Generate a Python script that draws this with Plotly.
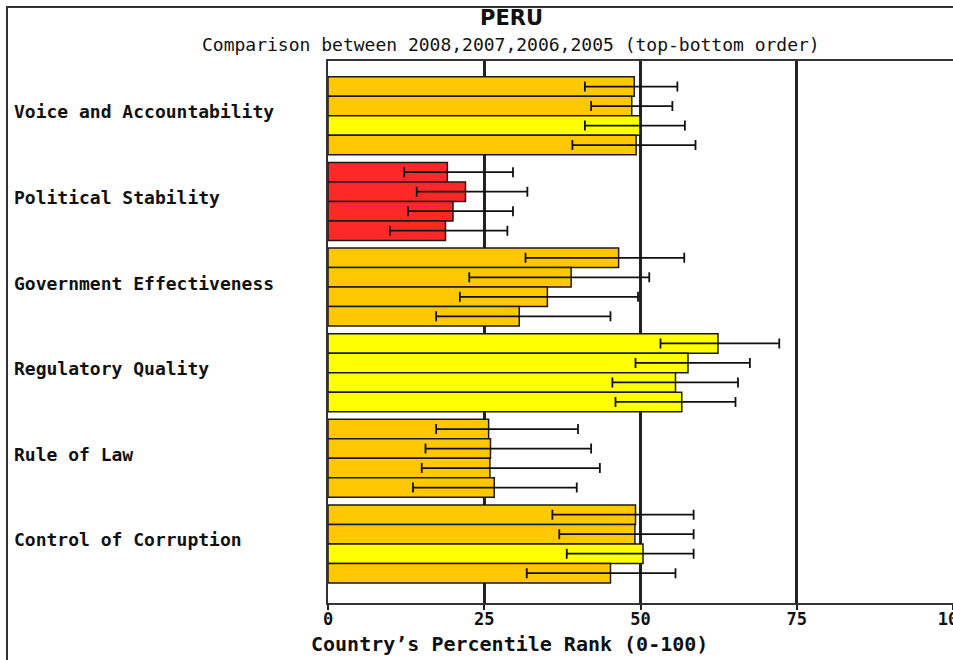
import plotly.graph_objects as go

categories = ["Voice and Accountability", "Political Stability", "Government Effectiveness",
              "Regulatory Quality", "Rule of Law", "Control of Corruption"]
years = ["2008", "2007", "2006", "2005"]

rank_2008 = [49.0, 19.1, 46.5, 62.4, 25.7, 49.2]
low_2008 = [41.1, 12.2, 31.6, 53.2, 17.3, 35.9]
high_2008 = [55.9, 29.6, 57.0, 72.2, 40.0, 58.5]

rank_2007 = [48.6, 22.0, 38.9, 57.6, 26.0, 49.1]
low_2007 = [42.1, 14.2, 22.6, 49.2, 15.6, 37.0]
high_2007 = [55.1, 31.9, 51.4, 67.5, 42.1, 58.5]

rank_2006 = [49.9, 20.0, 35.1, 55.6, 25.9, 50.4]
low_2006 = [41.1, 12.8, 21.1, 45.5, 15.0, 38.2]
high_2006 = [57.1, 29.6, 49.6, 65.6, 43.5, 58.5]

rank_2005 = [49.3, 18.8, 30.6, 56.6, 26.6, 45.2]
low_2005 = [39.1, 9.9, 17.3, 46.0, 13.6, 31.8]
high_2005 = [58.8, 28.7, 45.2, 65.2, 39.8, 55.6]

ORANGE = "#FFC800"
YELLOW = "#FFFF00"
RED = "#FF2828"
colors_2008 = [ORANGE, RED, ORANGE, YELLOW, ORANGE, ORANGE]
colors_2007 = [ORANGE, RED, ORANGE, YELLOW, ORANGE, ORANGE]
colors_2006 = [YELLOW, RED, ORANGE, YELLOW, ORANGE, YELLOW]
colors_2005 = [ORANGE, RED, ORANGE, YELLOW, ORANGE, ORANGE]

x_ticks = [0, 25, 50, 75, 100]

series = [
    (years[0], rank_2008, low_2008, high_2008, colors_2008),
    (years[1], rank_2007, low_2007, high_2007, colors_2007),
    (years[2], rank_2006, low_2006, high_2006, colors_2006),
    (years[3], rank_2005, low_2005, high_2005, colors_2005),
]

MONO = "DejaVu Sans Mono"

fig = go.Figure()
for name, vals, lo, hi, cols in series:
    fig.add_trace(go.Bar(
        name=name, y=categories, x=vals, orientation="h",
        marker=dict(color=cols, line=dict(color="#1a1a1a", width=1.5)),
        error_x=dict(type="data", symmetric=False,
                     array=[h - v for h, v in zip(hi, vals)],
                     arrayminus=[v - l for v, l in zip(vals, lo)],
                     color="#111111", thickness=1.8, width=5),
        showlegend=False, hoverinfo="x+y+name",
    ))

W, H = 953, 660
ML, MT, MR = 328, 61, 0
plot_bottom = 603
MB = H - plot_bottom
pw = W - ML - MR
ph = H - MT - MB


def px_x(target_x):
    return (target_x - ML) / pw


def px_y(target_y):
    return (plot_bottom - target_y) / ph


annotations = []
for c in categories:
    annotations.append(dict(
        text=c, xref="paper", yref="y", x=px_x(12), y=c, yshift=4,
        xanchor="left", yanchor="middle", showarrow=False,
        font=dict(family=MONO, size=18, color="#111111", weight="bold"),
    ))
annotations.append(dict(
    text="<b>PERU</b>",
    xref="paper", yref="paper", x=px_x(511), y=px_y(18),
    xanchor="center", yanchor="middle", showarrow=False,
    font=dict(family="DejaVu Sans", size=21, color="#111111"),
))
annotations.append(dict(
    text="Comparison between 2008,2007,2006,2005 (top-bottom order)",
    xref="paper", yref="paper", x=px_x(511), y=px_y(44),
    xanchor="center", yanchor="middle", showarrow=False,
    font=dict(family=MONO, size=18, color="#111111"),
))
annotations.append(dict(
    text="Country’s Percentile Rank (0-100)",
    xref="paper", yref="paper", x=px_x(509), y=px_y(644),
    xanchor="center", yanchor="middle", showarrow=False,
    font=dict(family=MONO, size=20, color="#111111", weight="bold"),
))

fig.update_layout(
    width=W, height=H,
    margin=dict(l=ML, r=MR, t=MT, b=MB, pad=0, autoexpand=False),
    paper_bgcolor="white", plot_bgcolor="white",
    barmode="group", bargap=0.089, bargroupgap=0,
    xaxis=dict(range=[0, 100], tickvals=x_ticks, ticktext=[str(t) for t in x_ticks],
               showgrid=True, gridcolor="#222222", gridwidth=3, zeroline=False,
               showline=True, linecolor="#333333", linewidth=1.5, mirror=True,
               ticks="outside", ticklen=5, tickwidth=2, tickcolor="#222222",
               ticklabelstandoff=-5, ticklabeloverflow="allow", automargin=False,
               tickfont=dict(family=MONO, size=17, color="#111111", weight="bold"),
               fixedrange=True),
    yaxis=dict(categoryorder="array", categoryarray=categories,
               range=[5.69, -0.64], showticklabels=False, ticks="",
               showgrid=False, zeroline=False, showline=True, automargin=False,
               linecolor="#333333", linewidth=1.5, fixedrange=True),
    annotations=annotations,
    shapes=[dict(type="rect", xref="paper", yref="paper",
                 x0=px_x(7), x1=1.2, y0=-0.3, y1=px_y(7),
                 line=dict(color="#333333", width=2), fillcolor="rgba(0,0,0,0)",
                 layer="above")],
)

fig.write_html(
    "out.html",
    config={"displayModeBar": False},
    post_script="document.body.style.margin='0';document.body.style.overflow='hidden';",
)
